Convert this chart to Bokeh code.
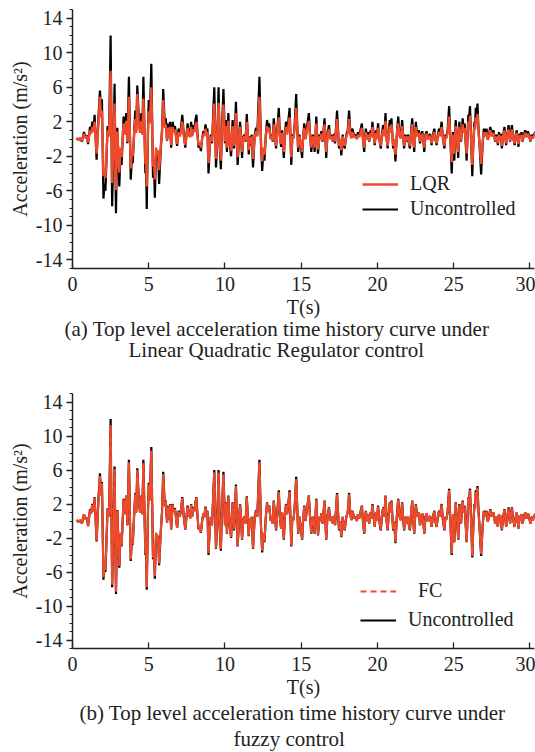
from bokeh.plotting import figure
from bokeh.layouts import column
from bokeh.models import Range1d, FixedTicker, Legend, LegendItem, Title
from bokeh.embed import file_html
from bokeh.resources import INLINE

# Time of each sampled turning point (s)
time_s = [
    0.26, 0.4, 0.5, 0.62, 0.75, 0.85, 0.95, 1.02,
    1.15, 1.22, 1.3, 1.38, 1.45, 1.58, 1.7, 1.8, 1.87, 1.93,
    2.03, 2.1, 2.16, 2.3, 2.4, 2.5, 2.6, 2.68, 2.76, 2.85, 2.94,
    3.07, 3.15, 3.22, 3.35, 3.45, 3.52, 3.6, 3.7, 3.82, 3.9, 3.95,
    4.05, 4.12, 4.18, 4.25, 4.35, 4.43, 4.52, 4.58, 4.65, 4.78, 4.82, 4.87, 4.95,
    5.0, 5.07, 5.17, 5.28, 5.34, 5.4, 5.48, 5.56, 5.62, 5.68, 5.8, 5.87, 5.95,
    6.05, 6.12, 6.2, 6.28, 6.33, 6.4, 6.47, 6.57, 6.63, 6.72, 6.8, 6.86, 6.96,
    7.03, 7.1, 7.2, 7.3, 7.4, 7.48, 7.55, 7.62, 7.68, 7.72, 7.78, 7.85, 7.92,
    8.0, 8.06, 8.13, 8.2, 8.27, 8.35, 8.42, 8.5, 8.58, 8.64, 8.72, 8.8, 8.85, 8.92,
    9.0, 9.07, 9.15, 9.3, 9.41, 9.5, 9.58, 9.66, 9.73, 9.8, 9.9,
    10.0, 10.05, 10.13, 10.22, 10.3, 10.4, 10.5, 10.6, 10.72, 10.83, 10.92, 10.99,
    11.05, 11.12, 11.2, 11.28, 11.35, 11.43, 11.56, 11.62, 11.67, 11.75, 11.84, 11.95,
    12.04, 12.12, 12.26, 12.36, 12.44, 12.52, 12.59, 12.68, 12.76, 12.83, 12.9,
    13.0, 13.07, 13.13, 13.2, 13.28, 13.35, 13.45, 13.53, 13.6, 13.68, 13.75, 13.86, 13.93,
    14.0, 14.08, 14.15, 14.24, 14.35, 14.42, 14.5, 14.58, 14.67, 14.8, 14.88, 14.95,
    15.06, 15.12, 15.2, 15.28, 15.35, 15.5, 15.58, 15.66, 15.75, 15.82, 15.88, 15.99,
    16.1, 16.2, 16.26, 16.32, 16.4, 16.53, 16.64, 16.72, 16.82, 16.9, 16.97,
    17.08, 17.15, 17.22, 17.35, 17.48, 17.55, 17.63, 17.72, 17.78, 17.85, 17.96,
    18.05, 18.14, 18.22, 18.29, 18.35, 18.4, 18.48, 18.57, 18.65, 18.72, 18.8, 18.88, 18.98,
    19.05, 19.13, 19.24, 19.32, 19.38, 19.46, 19.55, 19.6, 19.67, 19.75, 19.82, 19.9, 19.96,
    20.04, 20.12, 20.22, 20.3, 20.38, 20.45, 20.53, 20.6, 20.67, 20.74, 20.81, 20.86, 20.92,
    21.03, 21.1, 21.18, 21.27, 21.36, 21.45, 21.53, 21.62, 21.7, 21.75, 21.82, 21.91,
    22.0, 22.06, 22.13, 22.2, 22.28, 22.35, 22.41, 22.52, 22.6, 22.72, 22.79, 22.87, 22.94,
    23.0, 23.07, 23.15, 23.22, 23.3, 23.45, 23.55, 23.64, 23.73, 23.8, 23.88, 23.96,
    24.04, 24.1, 24.21, 24.3, 24.39, 24.46, 24.52, 24.6, 24.7, 24.87, 24.96,
    25.04, 25.13, 25.2, 25.3, 25.37, 25.43, 25.48, 25.59, 25.66, 25.72, 25.85, 25.96,
    26.0, 26.07, 26.22, 26.3, 26.36, 26.4, 26.45, 26.5, 26.56, 26.63, 26.69, 26.8, 26.91, 26.98,
    27.06, 27.15, 27.24, 27.32, 27.4, 27.5, 27.55, 27.61, 27.72, 27.8, 27.9, 27.97,
    28.05, 28.1, 28.16, 28.25, 28.33, 28.44, 28.52, 28.6, 28.7, 28.75, 28.82, 28.9,
    29.0, 29.07, 29.14, 29.25, 29.33, 29.41, 29.45, 29.52, 29.6, 29.69, 29.78, 29.87, 29.95,
    30.03, 30.12, 30.2, 30.35,
]

# Top-level acceleration without control (m/s^2)
uncontrolled = [
    0.1, -0.1, 0.1, -0.3, 0.8, 0.2, 0.4, -0.6,
    1.4, 0.9, 2.0, 1.2, 2.8, -2.4, 2.5, 5.6, 3.2, 4.6,
    -6.9, -5.2, -6.0, 1.5, 0.5, 12.0, -7.8, -1.5, 6.4, -8.6, 1.3,
    -5.5, -1.5, -3.0, 2.6, 0.8, 3.0, -0.5, 7.2, -4.7, -2.0, -2.8,
    1.0, 3.3, 1.0, 6.2, 2.5, 1.0, 3.0, 0.8, 7.2, -4.0, -2.5, -8.1, 1.0,
    4.5, 2.5, 8.7, -4.5, -3.0, -6.8, -1.5, -2.5, -1.8, -5.2, -0.9, 1.0, 5.8,
    1.8, 2.4, -0.2, 1.8, 0.2, 2.0, -1.0, 2.0, 1.2, 1.5, 0.2, -0.8, 1.2,
    0.5, 1.0, 2.8, 0.5, -1.0, 0.6, 1.8, 0.5, 1.2, 0.3, 2.0, 0.5, 1.6,
    1.2, 2.2, 2.8, 0.5, -1.0, -0.6, -1.4, 0.0, 0.9, 0.4, 1.7, 0.8, 1.2, -4.0,
    -1.0, 0.5, -0.5, 6.0, -3.3, 0.0, 6.0, -1.0, -3.5, 1.0, 5.8,
    -0.5, 2.2, -1.5, 3.0, -0.3, -2.0, 2.2, -1.1, 4.3, -3.0, 0.0, 2.0,
    0.5, -2.2, 0.2, 0.5, -0.3, 2.9, -1.8, 0.3, -0.8, 0.5, -3.3, 0.5,
    1.3, 0.5, 7.2, -0.5, -3.7, -1.5, -2.5, 0.5, 2.2, 1.2, 1.8,
    0.0, 0.5, -0.3, 2.4, 0.5, -1.1, 1.5, 3.6, 0.5, -0.9, 1.0, -2.2, 0.5,
    2.0, 0.8, 2.0, 3.6, -3.0, 0.5, 0.1, 2.0, 5.2, -1.5, 0.5, -0.5,
    -2.2, 0.0, 1.8, 0.0, 1.0, 3.0, 0.5, -1.5, 0.5, 0.0, -1.5, 2.6,
    -1.7, 0.5, 0.0, 0.9, -0.3, 2.4, -2.2, 0.5, 1.6, 0.0, 0.5,
    -0.3, 0.6, -0.5, 3.3, -1.1, 0.0, -1.9, 0.5, -0.5, -1.1, 0.5,
    1.0, 3.3, 0.8, 0.1, 1.2, 0.9, 0.3, 0.5, 0.0, 0.8, 0.3, 1.0, 1.8,
    0.0, -1.5, 1.2, 0.0, 0.8, -0.3, 1.0, 0.3, 2.0, 0.5, -0.7, 1.0, 0.0,
    1.8, 0.0, -1.1, 0.8, 1.6, 0.5, 3.0, 0.0, -1.1, 0.8, 2.2, 1.0, 2.4,
    -1.1, 0.0, -2.6, 0.5, 2.6, 0.5, 0.1, 2.2, 0.0, -1.1, 0.5, -0.3,
    0.5, -0.5, -1.1, 0.8, 2.4, 0.0, -1.5, 2.0, 0.5, 1.0, -0.5, 0.5, 0.9,
    0.0, -1.5, 0.5, 0.9, 0.0, 0.6, -0.7, 0.5, 1.2, 0.0, -0.7, 0.5,
    1.2, 0.5, 2.0, 0.0, -1.1, 0.5, 0.2, 1.0, 3.8, -4.0, 0.8,
    -2.5, 2.2, 0.5, -2.2, 2.0, 0.5, -0.3, 2.4, 1.0, 1.8, -2.5, 2.8,
    2.2, 3.8, -4.3, 0.0, 2.0, 1.5, 3.6, 2.5, 4.1, 1.0, -0.5, -4.1, -0.3, 1.2,
    0.5, 1.2, -0.1, 0.6, 1.4, 0.5, 0.8, 1.0, -0.3, 0.5, -0.7, 0.8,
    -0.1, 0.6, -1.1, 0.5, 1.4, -0.7, 0.5, 1.6, -0.3, 0.8, 1.6, 0.2,
    -0.7, 0.5, 1.0, -0.9, 0.6, 0.3, 0.8, -0.3, 0.5, 1.0, 0.3, 0.9, 0.4,
    -0.3, 0.5, 0.1, 0.9,
]

# Top-level acceleration under LQR control (m/s^2)
lqr = [
    0.1, -0.1, 0.1, -0.2, 0.6, 0.1, 0.3, -0.4,
    1.0, 0.6, 1.4, 0.8, 2.0, -1.7, 1.8, 4.9, 2.5, 3.3,
    -4.3, -3.8, -4.5, 1.0, 0.3, 7.9, -5.1, -1.0, 4.1, -5.9, 0.9,
    -3.9, -1.0, -2.1, 1.8, 0.5, 2.1, -0.3, 4.9, -3.4, -1.4, -2.0,
    0.7, 2.3, 0.7, 5.2, 1.7, 0.7, 2.1, 0.5, 4.7, -2.9, -1.8, -5.5, 0.7,
    3.2, 1.8, 6.0, -3.2, -2.1, -4.7, -1.0, -1.8, -1.3, -3.6, -0.6, 0.7, 4.5,
    1.3, 1.7, -0.1, 1.3, 0.1, 1.4, -0.7, 1.4, 0.8, 1.1, 0.1, -0.6, 0.8,
    0.3, 0.7, 2.0, 0.3, -0.7, 0.4, 1.3, 0.3, 0.8, 0.2, 1.4, 0.3, 1.1,
    0.8, 1.5, 2.0, 0.3, -0.7, -0.4, -1.0, 0.0, 0.6, 0.3, 1.2, 0.5, 0.8, -2.8,
    -0.7, 0.3, -0.3, 4.1, -2.3, 0.0, 4.2, -0.7, -2.5, 0.7, 4.0,
    -0.3, 1.5, -1.0, 2.1, -0.2, -1.4, 1.5, -0.8, 3.0, -2.1, 0.0, 1.4,
    0.3, -1.5, 0.1, 0.3, -0.2, 2.0, -1.3, 0.2, -0.6, 0.3, -2.3, 0.3,
    0.9, 0.3, 4.9, -0.3, -2.6, -1.0, -1.8, 0.3, 1.5, 0.8, 1.3,
    0.0, 0.3, -0.2, 1.7, 0.3, -0.8, 1.1, 2.5, 0.3, -0.6, 0.7, -1.5, 0.3,
    1.4, 0.5, 1.4, 2.5, -2.1, 0.3, 0.1, 1.4, 3.6, -1.0, 0.3, -0.3,
    -1.5, 0.0, 1.3, 0.0, 0.7, 2.1, 0.3, -1.0, 0.3, 0.0, -1.0, 1.8,
    -1.2, 0.3, 0.0, 0.6, -0.2, 1.7, -1.5, 0.3, 1.1, 0.0, 0.3,
    -0.2, 0.4, -0.3, 2.3, -0.8, 0.0, -1.3, 0.3, -0.3, -0.8, 0.3,
    0.7, 2.3, 0.5, 0.1, 0.8, 0.6, 0.2, 0.3, 0.0, 0.5, 0.2, 0.7, 1.3,
    0.0, -1.0, 0.8, 0.0, 0.5, -0.2, 0.7, 0.2, 1.4, 0.3, -0.5, 0.7, 0.0,
    1.3, 0.0, -0.8, 0.5, 1.1, 0.3, 2.1, 0.0, -0.8, 0.5, 1.5, 0.7, 1.7,
    -0.8, 0.0, -1.8, 0.3, 1.8, 0.3, 0.1, 1.5, 0.0, -0.8, 0.3, -0.2,
    0.3, -0.3, -0.8, 0.5, 1.7, 0.0, -1.0, 1.4, 0.3, 0.7, -0.3, 0.3, 0.6,
    0.0, -1.0, 0.3, 0.6, 0.0, 0.4, -0.5, 0.3, 0.8, 0.0, -0.5, 0.3,
    0.8, 0.3, 1.4, 0.0, -0.8, 0.3, 0.1, 0.7, 2.6, -2.7, 0.5,
    -1.7, 1.5, 0.3, -1.5, 1.4, 0.3, -0.2, 1.7, 0.7, 1.3, -1.7, 2.0,
    1.5, 2.7, -3.0, 0.0, 1.4, 1.1, 2.5, 1.8, 2.9, 0.7, -0.3, -2.9, -0.2, 0.8,
    0.3, 0.8, -0.1, 0.4, 1.0, 0.3, 0.5, 0.7, -0.2, 0.3, -0.5, 0.5,
    -0.1, 0.4, -0.8, 0.3, 1.0, -0.5, 0.3, 1.1, -0.2, 0.5, 1.1, 0.1,
    -0.5, 0.3, 0.7, -0.6, 0.4, 0.2, 0.5, -0.2, 0.3, 0.7, 0.2, 0.6, 0.3,
    -0.2, 0.3, 0.1, 0.6,
]

# Top-level acceleration under fuzzy control (m/s^2)
fuzzy = [
    0.1, -0.1, 0.1, -0.3, 0.8, 0.2, 0.4, -0.6,
    1.3, 0.9, 1.9, 1.1, 2.7, -2.3, 2.4, 5.3, 3.0, 4.4,
    -6.6, -5.0, -5.8, 1.4, 0.5, 11.3, -7.5, -1.4, 6.1, -8.3, 1.2,
    -5.3, -1.4, -2.9, 2.5, 0.8, 2.9, -0.5, 6.9, -4.5, -1.9, -2.7,
    1.0, 3.1, 1.0, 6.0, 2.4, 1.0, 2.9, 0.8, 6.8, -3.8, -2.4, -7.8, 1.0,
    4.3, 2.4, 8.3, -4.3, -2.9, -6.5, -1.4, -2.4, -1.7, -5.0, -0.9, 1.0, 5.5,
    1.7, 2.3, -0.2, 1.7, 0.2, 1.9, -1.0, 1.9, 1.1, 1.4, 0.2, -0.8, 1.1,
    0.5, 1.0, 2.7, 0.5, -1.0, 0.6, 1.7, 0.5, 1.1, 0.3, 1.9, 0.5, 1.5,
    1.1, 2.1, 2.7, 0.5, -1.0, -0.6, -1.3, 0.0, 0.9, 0.4, 1.6, 0.8, 1.1, -3.8,
    -1.0, 0.5, -0.5, 5.7, -3.2, 0.0, 5.7, -1.0, -3.3, 1.0, 5.5,
    -0.5, 2.1, -1.4, 2.9, -0.3, -1.9, 2.1, -1.0, 4.1, -2.9, 0.0, 1.9,
    0.5, -2.1, 0.2, 0.5, -0.3, 2.8, -1.7, 0.3, -0.8, 0.5, -3.2, 0.5,
    1.2, 0.5, 6.9, -0.5, -3.5, -1.4, -2.4, 0.5, 2.1, 1.1, 1.7,
    0.0, 0.5, -0.3, 2.3, 0.5, -1.0, 1.4, 3.4, 0.5, -0.9, 1.0, -2.1, 0.5,
    1.9, 0.8, 1.9, 3.4, -2.9, 0.5, 0.1, 1.9, 4.9, -1.4, 0.5, -0.5,
    -2.1, 0.0, 1.7, 0.0, 1.0, 2.9, 0.5, -1.4, 0.5, 0.0, -1.4, 2.5,
    -1.6, 0.5, 0.0, 0.9, -0.3, 2.3, -2.1, 0.5, 1.5, 0.0, 0.5,
    -0.3, 0.6, -0.5, 3.1, -1.0, 0.0, -1.8, 0.5, -0.5, -1.0, 0.5,
    1.0, 3.1, 0.8, 0.1, 1.1, 0.9, 0.3, 0.5, 0.0, 0.8, 0.3, 1.0, 1.7,
    0.0, -1.4, 1.1, 0.0, 0.8, -0.3, 1.0, 0.3, 1.9, 0.5, -0.7, 1.0, 0.0,
    1.7, 0.0, -1.0, 0.8, 1.5, 0.5, 2.9, 0.0, -1.0, 0.8, 2.1, 1.0, 2.3,
    -1.0, 0.0, -2.5, 0.5, 2.5, 0.5, 0.1, 2.1, 0.0, -1.0, 0.5, -0.3,
    0.5, -0.5, -1.0, 0.8, 2.3, 0.0, -1.4, 1.9, 0.5, 1.0, -0.5, 0.5, 0.9,
    0.0, -1.4, 0.5, 0.9, 0.0, 0.6, -0.7, 0.5, 1.1, 0.0, -0.7, 0.5,
    1.1, 0.5, 1.9, 0.0, -1.0, 0.5, 0.2, 1.0, 3.6, -3.8, 0.8,
    -2.4, 2.1, 0.5, -2.1, 1.9, 0.5, -0.3, 2.3, 1.0, 1.7, -2.4, 2.7,
    2.1, 3.6, -4.1, 0.0, 1.9, 1.4, 3.4, 2.4, 3.9, 1.0, -0.5, -3.9, -0.3, 1.1,
    0.5, 1.1, -0.1, 0.6, 1.3, 0.5, 0.8, 1.0, -0.3, 0.5, -0.7, 0.8,
    -0.1, 0.6, -1.0, 0.5, 1.3, -0.7, 0.5, 1.5, -0.3, 0.8, 1.5, 0.2,
    -0.7, 0.5, 1.0, -0.9, 0.6, 0.3, 0.8, -0.3, 0.5, 1.0, 0.3, 0.9, 0.4,
    -0.3, 0.5, 0.1, 0.9,
]

assert len(time_s) == len(uncontrolled) == len(lqr) == len(fuzzy)

y_major = [-14, -10, -6, -2, 2, 6, 10, 14]
y_minor = list(range(-15, 16))
x_major = [0, 5, 10, 15, 20, 25, 30]

SERIF = "Liberation Serif"
INK = "#222222"
RED = "#EF4A2B"
FS = "20px"
CAP_FS = "21px"


def make_panel(ctrl, ctrl_name, ctrl_dash, caption, frame_h, top_border,
               ctrl_width, legend_xy, legend_spacing):
    p = figure(width=535, frame_height=frame_h,
               x_range=Range1d(0, 30.3), y_range=Range1d(-15, 15),
               output_backend="svg", toolbar_location=None,
               min_border_left=72, min_border_right=1,
               min_border_top=top_border, min_border_bottom=0)
    p.outline_line_color = None
    p.xgrid.visible = False
    p.ygrid.visible = False

    unc = p.line(time_s, uncontrolled, line_color="black", line_width=2.2)
    ctl = p.line(time_s, ctrl, line_color=RED, line_width=ctrl_width)
    if ctrl_dash:
        # dashed trace over the solid one, so the legend key shows the dash
        sample = p.line(time_s, ctrl, line_color=RED, line_width=ctrl_width,
                        line_dash=ctrl_dash)
    else:
        sample = ctl

    xa = p.xaxis[0]
    xa.ticker = FixedTicker(ticks=x_major)
    xa.axis_label = "T(s)"
    xa.major_tick_in = 6
    xa.major_tick_out = 0
    xa.major_label_standoff = 8
    xa.axis_label_standoff = 2

    ya = p.yaxis[0]
    ya.ticker = FixedTicker(ticks=y_major, minor_ticks=y_minor)
    ya.axis_label = "Acceleration (m/s²)"
    ya.major_label_overrides = {v: str(v) for v in y_major}
    ya.major_tick_in = 0
    ya.major_tick_out = 6
    ya.minor_tick_in = 0
    ya.minor_tick_out = 3
    ya.major_label_standoff = 4
    ya.axis_label_standoff = 2

    for ax in (xa, ya):
        ax.axis_line_width = 1.5
        ax.axis_line_color = INK
        ax.major_tick_line_color = INK
        ax.major_tick_line_width = 1.3
        ax.minor_tick_line_color = INK if ax is ya else None
        ax.major_label_text_font = SERIF
        ax.major_label_text_font_size = FS
        ax.major_label_text_color = INK
        ax.axis_label_text_font = SERIF
        ax.axis_label_text_font_size = FS
        ax.axis_label_text_font_style = "normal"
        ax.axis_label_text_color = INK

    for line, standoff, offset in caption:
        p.add_layout(Title(text=line, align="left", text_font=SERIF,
                           text_font_size=CAP_FS, text_font_style="normal",
                           text_color=INK, standoff=standoff, offset=offset),
                     "below")

    legend = Legend(items=[LegendItem(label=ctrl_name, renderers=[sample]),
                           LegendItem(label="Uncontrolled", renderers=[unc])],
                    location=legend_xy, orientation="vertical",
                    background_fill_alpha=0, border_line_alpha=0,
                    padding=0, margin=0, spacing=legend_spacing,
                    glyph_width=36, glyph_height=20, label_height=20,
                    label_standoff=12, label_text_font=SERIF,
                    label_text_font_size=FS, label_text_color=INK)
    p.add_layout(legend, "center")
    return p


top = make_panel(lqr, "LQR", None,
                 [("(a) Top level acceleration time history curve under", -12, -8),
                  ("Linear Quadratic Regulator control", 2, 56)],
                 frame_h=259, top_border=9, ctrl_width=2.4,
                 legend_xy=(290, 48), legend_spacing=2)
bottom = make_panel(fuzzy, "\u00a0\u00a0FC", "6 4",
                    [("(b) Top level acceleration time history curve under", -3, 7),
                     ("fuzzy control", 2, 161)],
                    frame_h=255, top_border=31, ctrl_width=2.0,
                    legend_xy=(288, 17), legend_spacing=6)

layout = column(top, bottom, spacing=0)
open("out.html", "w").write(file_html(layout, INLINE))
